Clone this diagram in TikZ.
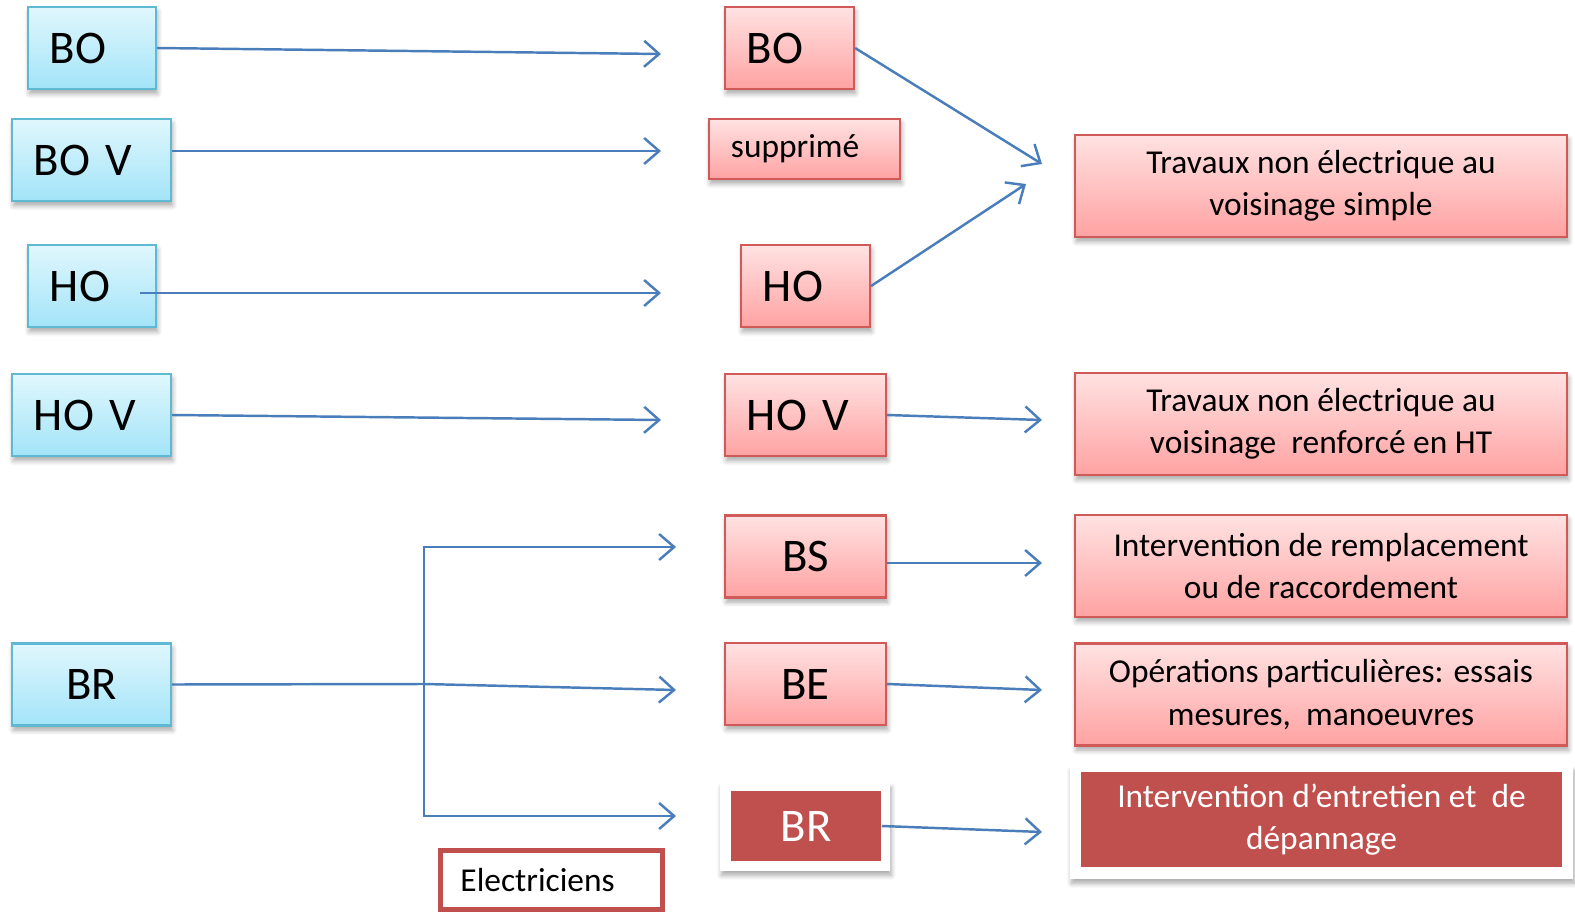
\documentclass[tikz,border=0pt]{standalone}
\usepackage{fontspec}
\setmainfont{Carlito}
\usetikzlibrary{arrows.meta,shadows.blur,backgrounds}

\definecolor{bleuhaut}{HTML}{E0F7FD}
\definecolor{bleubas}{HTML}{A3E4F8}
\definecolor{bleubord}{HTML}{5FB9D2}
\definecolor{rosehaut}{HTML}{FFE2E2}
\definecolor{rosebas}{HTML}{FFA2A2}
\definecolor{rougebord}{HTML}{D05A57}
\definecolor{rougefonce}{HTML}{C0504D}
\definecolor{bleufleche}{HTML}{4A7EBB}

\tikzset{
	ombre/.style={blur shadow={shadow xshift=0.4pt, shadow yshift=-1.3pt, shadow blur radius=1.4pt, shadow blur steps=6, shadow opacity=35}},
	grand/.style={font=\fontsize{13.3}{16}\selectfont},
	petit/.style={font=\fontsize{9.5}{12}\selectfont, align=center},
	bleu/.style={draw=bleubord, line width=0.6pt, top color=bleuhaut, bottom color=bleubas, ombre, minimum height=0.82cm, inner xsep=0.22cm, grand},
	rose/.style={draw=rougebord, line width=0.6pt, top color=rosehaut, bottom color=rosebas, ombre, inner xsep=0.22cm},
	fonce/.style={fill=rougefonce, text=white, inner xsep=0.22cm},
	lien/.style={draw=bleufleche, line width=0.7pt, -{Straight Barb[length=1.5mm, width=2.6mm]}},
}

\begin{document}
\begin{tikzpicture}[x=0.01cm, y=-0.01cm]

			\useasboundingbox (0,0) rectangle (1575,915);

			% Habilitations de départ
			\node[bleu, minimum width=1.28cm, text width=0.84cm, align=left] (bo) at (92,48) {BO};
			\node[bleu, minimum width=1.59cm, text width=1.15cm, align=left] (bov) at (91.5,160) {BO V};
			\node[bleu, minimum width=1.28cm, text width=0.84cm, align=left] (ho) at (92,286) {HO};
			\node[bleu, minimum width=1.59cm, text width=1.15cm, align=left] (hov) at (91.5,415) {HO V};
			\node[bleu, minimum width=1.59cm] (br) at (91.5,684.5) {BR};

			% Nouvelles habilitations
			\node[rose, grand, minimum width=1.29cm, minimum height=0.82cm, text width=0.85cm, align=left] (bom) at (789.5,48) {BO};
			\node[rose, font=\fontsize{9.5}{12}\selectfont, minimum width=1.91cm, minimum height=0.6cm, text width=1.47cm, align=left] (supp) at (804.5,149) {supprimé};
			\node[rose, grand, minimum width=1.29cm, minimum height=0.82cm, text width=0.85cm, align=left] (hom) at (805.5,286) {HO};
			\node[rose, grand, minimum width=1.61cm, minimum height=0.82cm, text width=1.17cm, align=left] (hovm) at (805.5,415) {HO V};
			\node[rose, grand, minimum width=1.61cm, minimum height=0.82cm] (bs) at (805.5,556.5) {BS};
			\node[rose, grand, minimum width=1.61cm, minimum height=0.82cm] (be) at (805.5,684) {BE};
			\node[fonce, grand, minimum width=1.5cm, minimum height=0.7cm] (brm) at (806,826) {BR};

			% Travaux autorisés
			\node[rose, petit, minimum width=4.92cm, minimum height=1.02cm] (t1) at (1321,186) {Travaux non électrique au\\voisinage simple};
			\node[rose, petit, minimum width=4.92cm, minimum height=1.02cm] (t2) at (1321,424) {Travaux non électrique au\\voisinage\ \ renforcé en HT};
			\node[rose, petit, minimum width=4.92cm, minimum height=1.02cm] (t3) at (1321,566) {Intervention de remplacement\\ou de raccordement};
			\node[rose, petit, minimum width=4.92cm, minimum height=1.02cm] (t4) at (1321,694.5) {Opérations particulières: essais\\mesures,\ \ manoeuvres};
			\node[fonce, petit, minimum width=4.81cm, minimum height=0.91cm] (t5) at (1321.5,819.5) {Intervention d’entretien et\ \ de\\dépannage};

			% Cadres blancs derrière les boîtes foncées
			\begin{scope}[on background layer]
				\fill[white, ombre] ([shift={(-10,-7)}]brm.north west) rectangle ([shift={(8,9)}]brm.south east);
				\fill[white, ombre] ([shift={(-10,-5)}]t5.north west) rectangle ([shift={(10,11)}]t5.south east);
			\end{scope}

			\node[draw=rougefonce, line width=1.4pt, minimum width=2.22cm, minimum height=0.59cm, inner xsep=0.2cm, font=\fontsize{9.5}{12}\selectfont, text width=1.82cm, align=left] (elec) at (551.5,880) {Electriciens};

			% Bouts des flèches
			\coordinate (f1) at (661,54);
			\coordinate (f2) at (661,151);
			\coordinate (f3) at (661,293);
			\coordinate (f4) at (661,420);
			\coordinate (m1) at (1042,164);
			\coordinate (m2) at (1026,184);
			\coordinate (m3) at (1042,420);
			\coordinate (m4) at (1042,563);
			\coordinate (m5) at (1042,690);
			\coordinate (m6) at (1042,832);
			\coordinate (noeud) at (424,684);
			\coordinate (fbs) at (676,547);
			\coordinate (fbe) at (676,690);
			\coordinate (fbr) at (676,816);

			% Flèches de gauche
			\draw[lien] (bo.east) -- (f1);
			\draw[lien] ([shift={(0,-9)}]bov.east) -- (f2);
			\draw[lien] ([shift={(-17,7)}]ho.east) -- (f3);
			\draw[lien] (hov.east) -- (f4);

			% Répartition du BR
			\draw[lien] (br.east) -- (noeud) -- (fbe);
			\draw[lien] (noeud) -- (noeud |- fbs) -- (fbs);
			\draw[lien] (noeud) -- (noeud |- fbr) -- (fbr);

			% Flèches vers les travaux
			\draw[lien] (bom.east) -- (m1);
			\draw[lien] (hom.east) -- (m2);
			\draw[lien] (hovm.east) -- (m3);
			\draw[lien] ([shift={(0,6.5)}]bs.east) -- (m4);
			\draw[lien] (be.east) -- (m5);
			\draw[lien] (brm.east) -- (m6);

\end{tikzpicture}
\end{document}
